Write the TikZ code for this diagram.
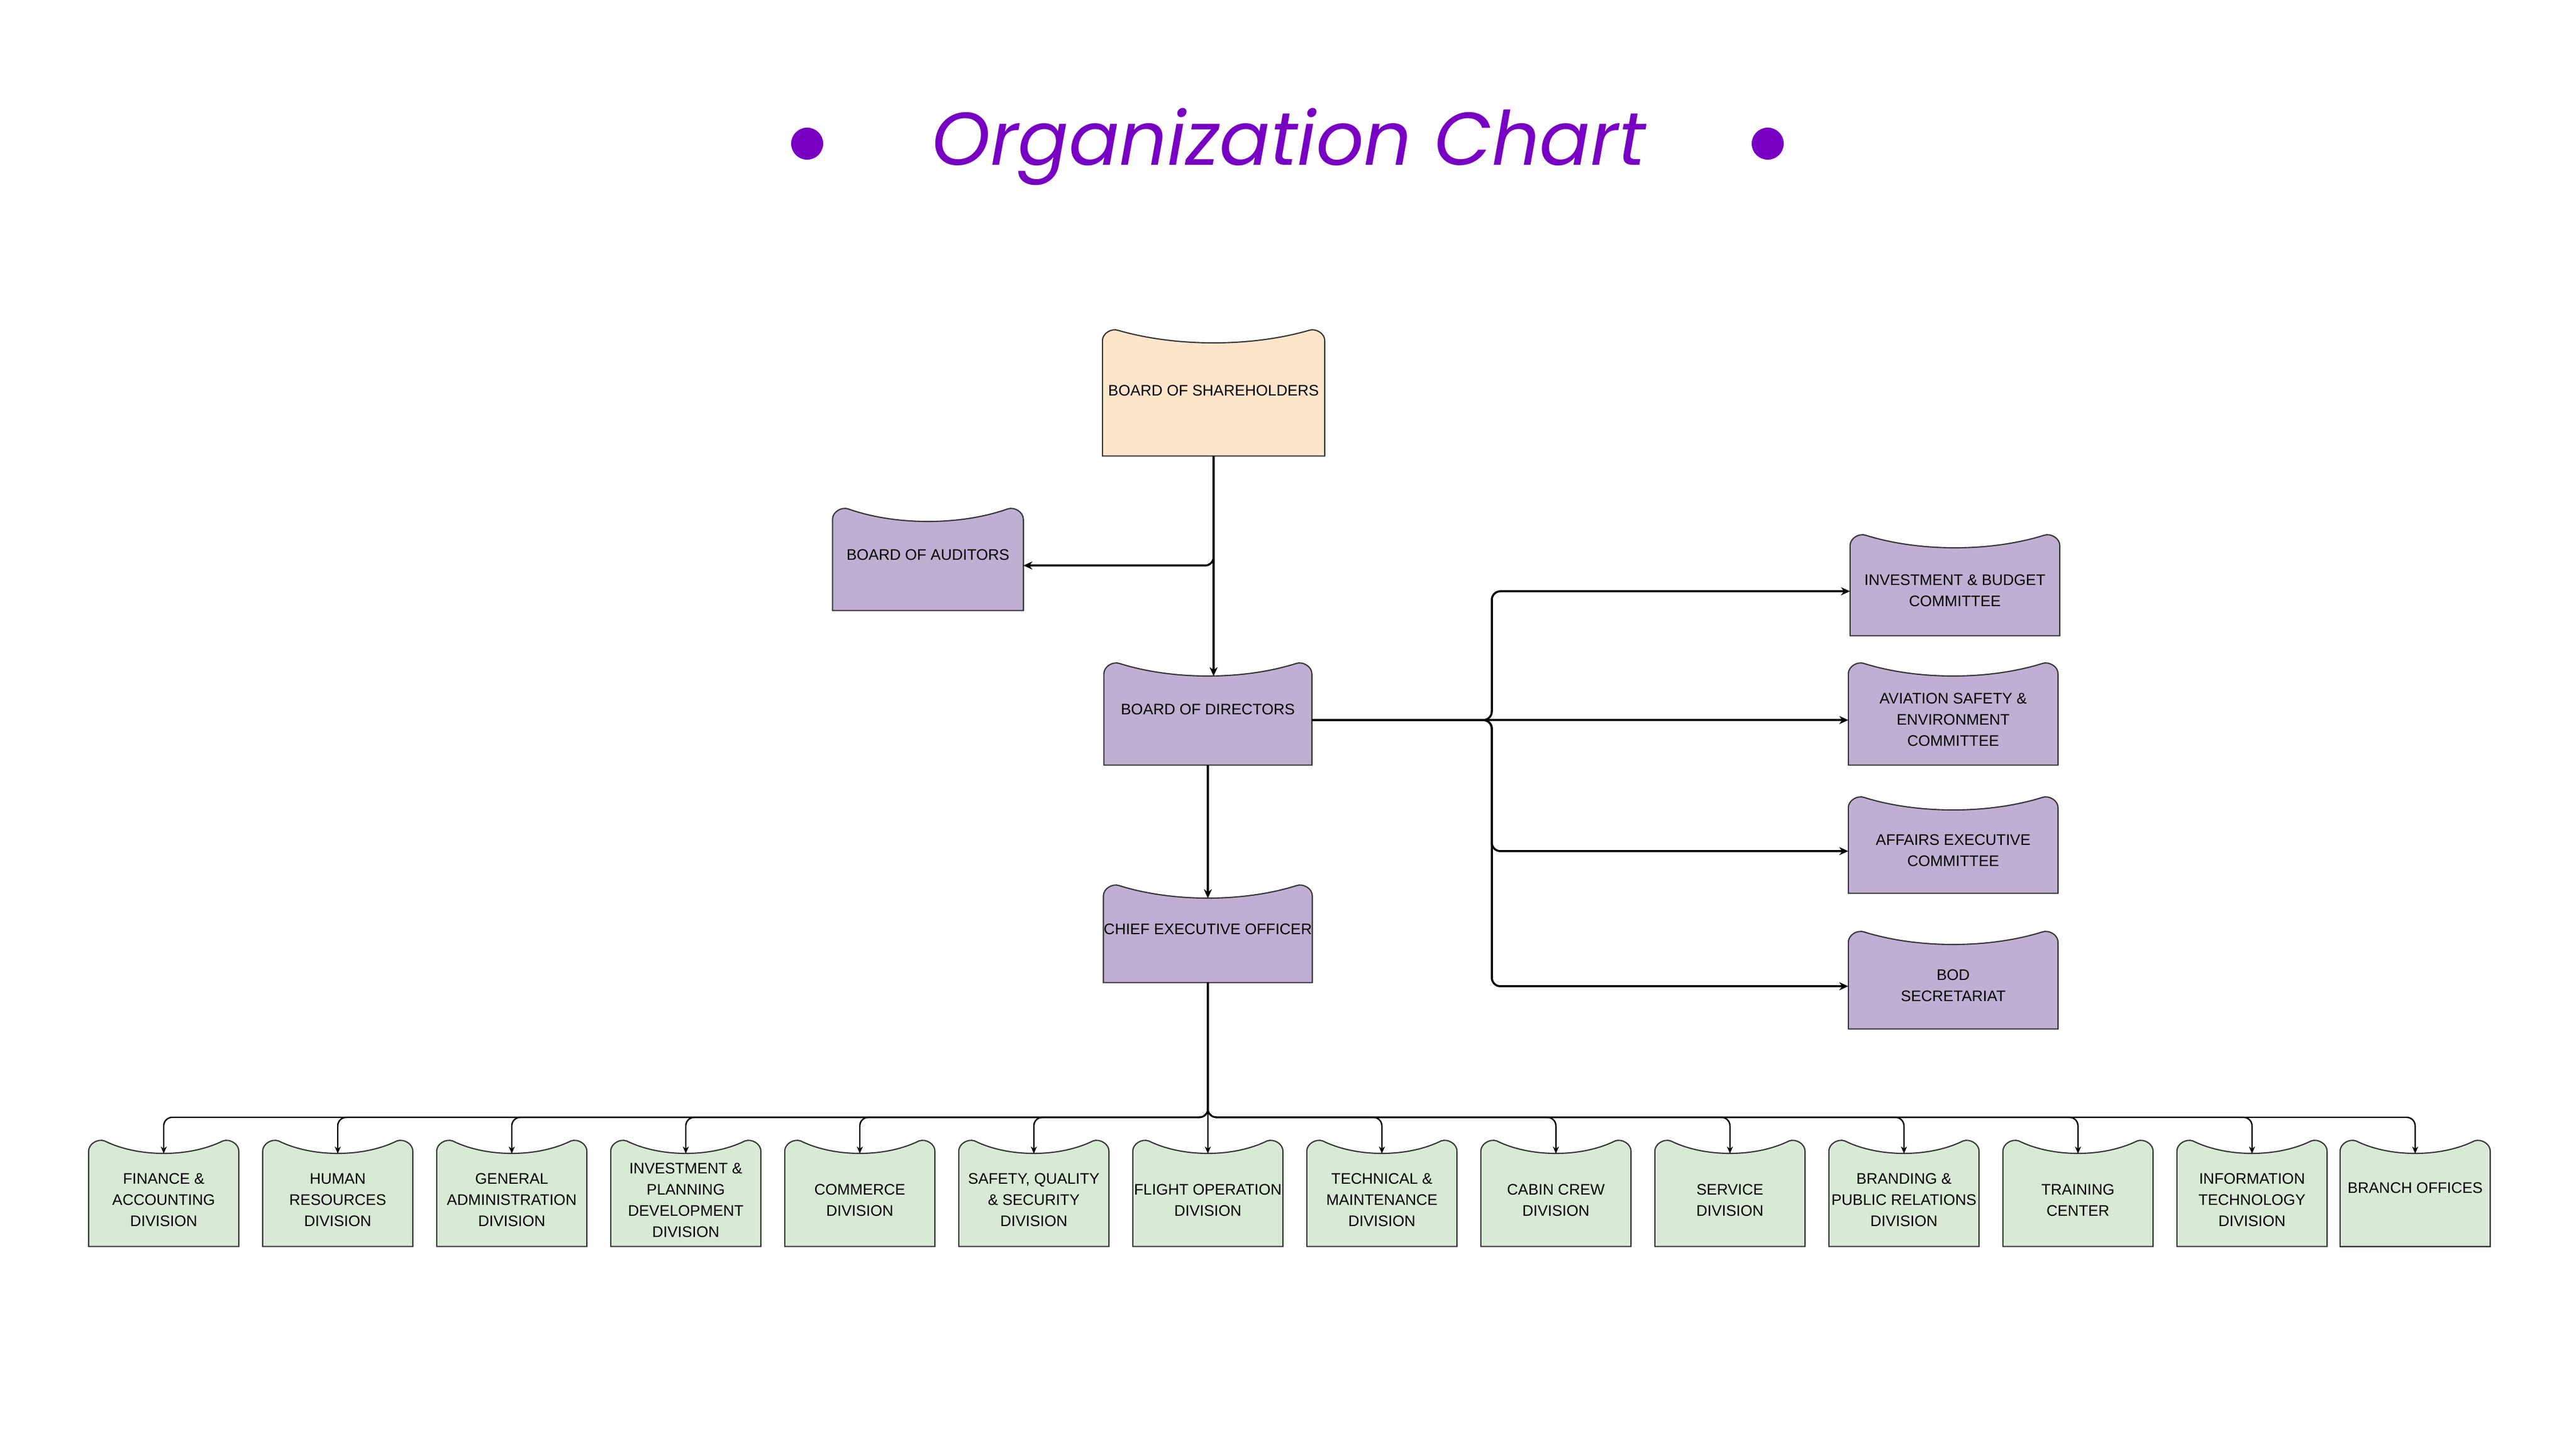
\documentclass[tikz,border=0pt]{standalone}
\usepackage{fontspec}
\setmainfont{Liberation Sans}
\newfontfamily\titlefont{Poppins}
\usetikzlibrary{calc,arrows.meta}
\pgfdeclarelayer{background}
\pgfsetlayers{background,main}
\definecolor{peach}{HTML}{FDE5CC}
\definecolor{lilac}{HTML}{BFAFD2}
\definecolor{mint}{HTML}{D8E9D5}
\definecolor{edgegray}{HTML}{333333}
\definecolor{titlepurple}{RGB}{120,0,195}
\tikzset{
  orgunit/.style={minimum width=3.62cm, minimum height=1.76cm, inner sep=0pt, align=center, font=\fontsize{7.6}{10.5}\selectfont},
  divbox/.style={orgunit, minimum width=2.61cm, minimum height=1.83cm},
  orglink/.style={line width=1pt, -{Stealth[length=4.5pt,width=4pt]}},
  sublink/.style={line width=0.7pt, rounded corners=0.15cm, -{Stealth[length=3.5pt,width=3pt]}},
  dot/.style={circle, fill=titlepurple, minimum size=0.56cm, inner sep=0pt}
}
\newcommand{\orgshape}[3][0]{%
  \coordinate (#2-sw) at ($(#2.south west)+(0,#1)$);
  \coordinate (#2-nw) at ($(#2.north west)+(0,#1)$);
  \coordinate (#2-ne) at ($(#2.north east)+(0,#1)$);
  \coordinate (#2-se) at ($(#2.south east)+(0,#1)$);
  \path[fill=#3, draw=edgegray, line width=0.6pt]
    (#2-sw) -- ($(#2-nw)+(0,-0.18)$)
    to[out=90,in=160] ($(#2-nw)+(0.28,0)$)
    .. controls ($(#2-nw)!0.33!(#2-ne)+(0,-0.29)$) and ($(#2-nw)!0.67!(#2-ne)+(0,-0.29)$) .. ($(#2-ne)+(-0.28,0)$)
    to[out=20,in=90] ($(#2-ne)+(0,-0.18)$)
    -- (#2-se) -- cycle;
  \coordinate (#2-dip) at ($(#2-nw)!0.5!(#2-ne)+(0,-0.22)$);
  \coordinate (#2-s) at ($(#2-sw)!0.5!(#2-se)$);
  \coordinate (#2-w) at ($(#2-sw)!0.5!(#2-nw)+(0,-0.1)$);
  \coordinate (#2-e) at ($(#2-se)!0.5!(#2-ne)+(0,-0.1)$);
}

\begin{document}
\begin{tikzpicture}
  \node[dot] (dotl) at (14.10,22.49) {};
  \node[dot] (dotr) at (30.88,22.49) {};
  \node[anchor=base, text=titlepurple, font=\titlefont\itshape\fontsize{37.2}{40}\selectfont] (title) at (22.51,22.11) {Organization Chart};

  \node[orgunit, minimum width=3.87cm, minimum height=2.18cm] (sh) at (21.20,18.18) {BOARD OF SHAREHOLDERS};
  \node[orgunit, minimum width=3.32cm] (au) at (16.21,15.31) {BOARD OF AUDITORS};
  \node[orgunit] (bd) at (21.10,12.61) {BOARD OF DIRECTORS};
  \node[orgunit, minimum height=1.68cm] (ceo) at (21.10,8.77) {CHIEF EXECUTIVE OFFICER};
  \node[orgunit, minimum width=3.65cm, minimum height=1.74cm] (c1) at (34.15,14.68) {INVESTMENT \& BUDGET\\COMMITTEE};
  \node[orgunit, minimum width=3.65cm] (c2) at (34.12,12.43) {AVIATION SAFETY \&\\ENVIRONMENT\\COMMITTEE};
  \node[orgunit, minimum width=3.65cm, minimum height=1.66cm] (c3) at (34.12,10.14) {AFFAIRS EXECUTIVE\\COMMITTEE};
  \node[orgunit, minimum width=3.65cm, minimum height=1.68cm] (c4) at (34.12,7.78) {BOD\\SECRETARIAT};

  \foreach \i/\t in {1/{FINANCE \&\\ACCOUNTING\\DIVISION},
                     2/{HUMAN\\RESOURCES\\DIVISION},
                     3/{GENERAL\\ADMINISTRATION\\DIVISION},
                     4/{INVESTMENT \&\\PLANNING\\DEVELOPMENT\\DIVISION},
                     5/{COMMERCE\\DIVISION},
                     6/{SAFETY, QUALITY\\\& SECURITY\\DIVISION},
                     7/{FLIGHT OPERATION\\DIVISION},
                     8/{TECHNICAL \&\\MAINTENANCE\\DIVISION},
                     9/{CABIN CREW\\DIVISION},
                     10/{SERVICE\\DIVISION},
                     11/{BRANDING \&\\PUBLIC RELATIONS\\DIVISION},
                     12/{TRAINING\\CENTER},
                     13/{INFORMATION\\TECHNOLOGY\\DIVISION}}{
    \node[divbox] (d\i) at ({2.86+(\i-1)*3.04},4.035) {\t};
  }
  \node[divbox] (d14) at (42.19,4.245) {BRANCH OFFICES};

  \begin{pgfonlayer}{background}
    \fill[white] (0,0) rectangle (45,25);
    \orgshape[-0.05]{sh}{peach}
    \foreach \n in {au,bd,ceo}{\orgshape[-0.09]{\n}{lilac}}
    \foreach \n in {c1,c2,c3,c4}{\orgshape[0.09]{\n}{lilac}}
    \foreach \i in {1,...,13}{\orgshape[0.11]{d\i}{mint}}
    \orgshape[-0.1]{d14}{mint}
  \end{pgfonlayer}

  \coordinate (trunk) at (26.06,12.42);
  \coordinate (bus) at (21.10,5.48);
  \draw[orglink] (sh-s) -- (sh-s |- bd-dip);
  \draw[orglink, rounded corners=0.15cm] (sh-s) |- (au-e);
  \draw[orglink] (bd-e) -- (c2-w);
  \foreach \c in {c1,c3,c4}
    \draw[orglink, rounded corners=0.15cm] (bd-e) -- (trunk) |- (\c-w);
  \draw[orglink] (bd-s) -- (ceo-dip);
  \foreach \i in {1,...,6,8,9,...,14}
    \draw[sublink] (ceo-s) -- (bus) -| (d\i-dip);
  \draw[sublink] (ceo-s) -- (d7-dip);
\end{tikzpicture}
\end{document}
